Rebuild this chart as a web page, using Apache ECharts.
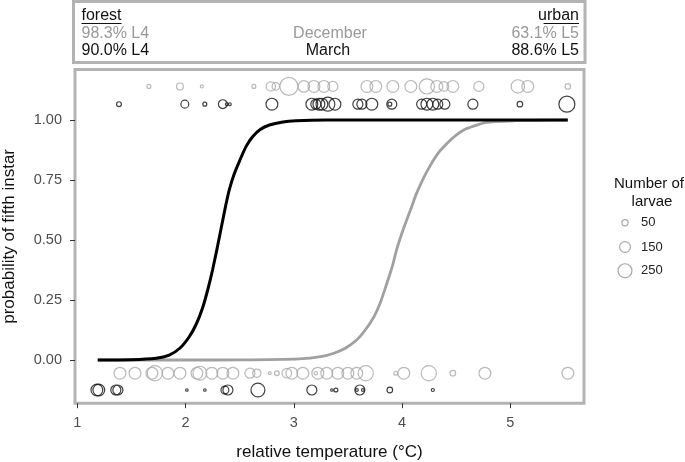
<!DOCTYPE html>
<html>
<head>
<meta charset="utf-8">
<script src="https://cdn.jsdelivr.net/npm/echarts@6/dist/echarts.min.js"></script>
<style>
html,body{margin:0;padding:0;background:#fff;}
#chart{width:685px;height:462px;}
</style>
</head>
<body>
<div id="chart"></div>
<script>
// ---- data ----
const xTicks = [1, 2, 3, 4, 5];
const yTicks = [0, 0.25, 0.5, 0.75, 1];
const legendSizes = [50, 150, 250];

// display rows for the observed outcomes
const rowDecTop = 1.14, rowMarTop = 1.066, rowDecBot = -0.055, rowMarBot = -0.125;

const decTopX = [1.662,1.949,2.151,2.632,2.788,2.834,2.955,3.093,3.186,3.278,3.361,3.675,3.758,3.915,4.081,4.229,4.321,4.386,4.469,4.709,5.069,5.161,5.531];
const decTopN = [20,60,12,20,110,70,420,170,180,180,130,180,180,180,180,300,180,120,180,130,230,180,40];

const marTopX = [1.386,1.994,2.179,2.345,2.382,2.410,2.798,3.167,3.204,3.232,3.260,3.315,3.380,3.592,3.629,3.721,3.887,3.905,4.181,4.229,4.284,4.330,4.395,4.654,5.088,5.522];
const marTopN = [30,80,20,100,10,10,180,180,130,180,180,250,180,130,130,180,20,130,130,180,180,130,130,130,40,330];

const decBotX = [1.395,1.534,1.690,1.718,1.838,1.949,2.106,2.133,2.244,2.345,2.438,2.595,2.659,2.779,2.844,2.936,2.982,3.084,3.204,3.222,3.305,3.407,3.499,3.582,3.665,3.942,4.016,4.247,4.469,4.765,5.531];
const decBotN = [180,180,180,300,180,180,180,250,180,180,180,130,90,10,30,120,180,180,15,180,180,180,180,180,300,20,180,300,40,180,180];

const marBotX = [1.182,1.200,1.357,1.376,2.013,2.179,2.364,2.392,2.669,3.167,3.352,3.389,3.583,3.610,3.638,3.887,4.284];
const marBotN = [180,180,130,130,8,8,80,130,250,130,8,20,10,130,10,40,12];

const blackCurveX = [1.19,1.5,1.73,1.85,1.95,2.035,2.1,2.16,2.21,2.25,2.29,2.33,2.37,2.405,2.45,2.5,2.56,2.62,2.69,2.775,2.9,3.02,3.3,3.8,4.5,5.53];
const blackCurveY = [0,0.001,0.007,0.02,0.05,0.097,0.15,0.22,0.30,0.375,0.46,0.55,0.64,0.71,0.775,0.83,0.89,0.93,0.96,0.979,0.992,0.997,1,1,1,1];
const grayCurveX = [1.19,2.0,2.5,3.05,3.25,3.37,3.48,3.58,3.66,3.74,3.80,3.86,3.91,3.95,4.0,4.04,4.09,4.13,4.2,4.26,4.33,4.41,4.5,4.6,4.78,5.06,5.3,5.53];
const grayCurveY = [0,0,0.0005,0.005,0.014,0.028,0.05,0.083,0.125,0.18,0.24,0.32,0.39,0.46,0.53,0.58,0.64,0.69,0.76,0.81,0.86,0.9,0.937,0.965,0.99,0.997,0.999,1];

// ---- styles ----
const GRAY = '#a8a8a8', BLACK = '#111111', BORDER = '#b3b3b3';
const FONT = '"Liberation Sans", Arial, sans-serif';
function sizeOf(n){ return 0.88 * Math.sqrt(n); }
function pts(xs, row, ns){ return xs.map((x,i)=>[x,row,ns[i]]); }
function line(xs, ys){ return xs.map((x,i)=>[x, ys[i]]); }

function scatter(name, data, color){
  return {
    name, type:'scatter', data,
    symbol:'circle',
    symbolSize: v => sizeOf(v[2]),
    itemStyle:{ color:'rgba(0,0,0,0)', borderColor:color, borderWidth:1.2 },
    emphasis:{disabled:true}, z:3
  };
}

const chart = echarts.init(document.getElementById('chart'), null, {renderer:'canvas'});

const legendGraphics = [
  {type:'text', x:649, y:184, style:{text:'Number of', font:'15px '+FONT, fill:'#111', align:'center', verticalAlign:'middle'}},
  {type:'text', x:652, y:202, style:{text:'larvae', font:'15px '+FONT, fill:'#111', align:'center', verticalAlign:'middle'}}
];
const legendYs = [222.7, 247, 270.7];
legendSizes.forEach((s,i)=>{
  legendGraphics.push({type:'circle', shape:{cx:625, cy:legendYs[i], r:sizeOf(s)/2},
    style:{fill:'none', stroke:GRAY, lineWidth:1.2}});
  legendGraphics.push({type:'text', x:641, y:legendYs[i],
    style:{text:String(s), font:'13px '+FONT, fill:'#222', verticalAlign:'middle'}});
});

const headerGraphics = [
  {type:'rect', shape:{x:73.5, y:1.5, width:511.5, height:61}, style:{fill:'#fff', stroke:BORDER, lineWidth:3}},
  {type:'text', x:81.5, y:15.5, style:{text:'forest', font:'16px '+FONT, fill:'#111', verticalAlign:'middle'}},
  {type:'line', shape:{x1:81.5, y1:23.5, x2:121.5, y2:23.5}, style:{stroke:'#111', lineWidth:1.2}},
  {type:'text', x:81.5, y:33.5, style:{text:'98.3% L4', font:'16px '+FONT, fill:'#999', verticalAlign:'middle'}},
  {type:'text', x:81.5, y:51, style:{text:'90.0% L4', font:'16px '+FONT, fill:'#111', verticalAlign:'middle'}},
  {type:'text', x:330, y:33.5, style:{text:'December', font:'16px '+FONT, fill:'#999', align:'center', verticalAlign:'middle'}},
  {type:'text', x:328, y:51, style:{text:'March', font:'16px '+FONT, fill:'#111', align:'center', verticalAlign:'middle'}},
  {type:'text', x:579, y:15.5, style:{text:'urban', font:'16px '+FONT, fill:'#111', align:'right', verticalAlign:'middle'}},
  {type:'line', shape:{x1:543.5, y1:23.5, x2:579, y2:23.5}, style:{stroke:'#111', lineWidth:1.2}},
  {type:'text', x:579, y:33.5, style:{text:'63.1% L5', font:'16px '+FONT, fill:'#999', align:'right', verticalAlign:'middle'}},
  {type:'text', x:579, y:51, style:{text:'88.6% L5', font:'16px '+FONT, fill:'#111', align:'right', verticalAlign:'middle'}}
];

chart.setOption({
  animation:false,
  backgroundColor:'#fff',
  grid:{left:75, top:69.6, width:509, height:333.6, show:true, borderColor:BORDER, borderWidth:3,
    backgroundColor:'#fff', containLabel:false, outerBoundsMode:'none'},
  xAxis:{
    type:'value', min:0.98, max:5.68,
    axisLine:{show:false, onZero:false},
    splitLine:{show:false},
    axisTick:{show:true, length:5, inside:false, lineStyle:{color:'#333', width:1}, customValues:xTicks},
    axisLabel:{customValues:xTicks, color:'#4d4d4d', fontSize:14.5, fontFamily:FONT, margin:12},
    name:'relative temperature (°C)', nameLocation:'middle', nameGap:41,
    nameTextStyle:{fontSize:17, fontFamily:FONT, color:'#111'}
  },
  yAxis:{
    type:'value', min:-0.18, max:1.21,
    axisLine:{show:false, onZero:false},
    splitLine:{show:false},
    axisTick:{show:true, length:5, lineStyle:{color:'#333', width:1}, customValues:yTicks},
    axisLabel:{customValues:yTicks, color:'#4d4d4d', fontSize:14.5, fontFamily:FONT, margin:13,
      formatter: v => v.toFixed(2)},
    name:'probability of fifth instar', nameLocation:'middle', nameGap:57, nameRotate:90,
    nameTextStyle:{fontSize:17, fontFamily:FONT, color:'#111'}
  },
  series:[
    scatter('December top', pts(decTopX, rowDecTop, decTopN), GRAY),
    scatter('December bottom', pts(decBotX, rowDecBot, decBotN), GRAY),
    scatter('March top', pts(marTopX, rowMarTop, marTopN), BLACK),
    scatter('March bottom', pts(marBotX, rowMarBot, marBotN), BLACK),
    {type:'line', data:line(grayCurveX, grayCurveY), showSymbol:false, smooth:0.2,
      lineStyle:{color:'#a0a0a0', width:2.8}, z:4, silent:true},
    {type:'line', data:line(blackCurveX, blackCurveY), showSymbol:false, smooth:0.2,
      lineStyle:{color:'#000', width:3}, z:5, silent:true}
  ],
  graphic: headerGraphics.concat(legendGraphics)
});
</script>
</body>
</html>
